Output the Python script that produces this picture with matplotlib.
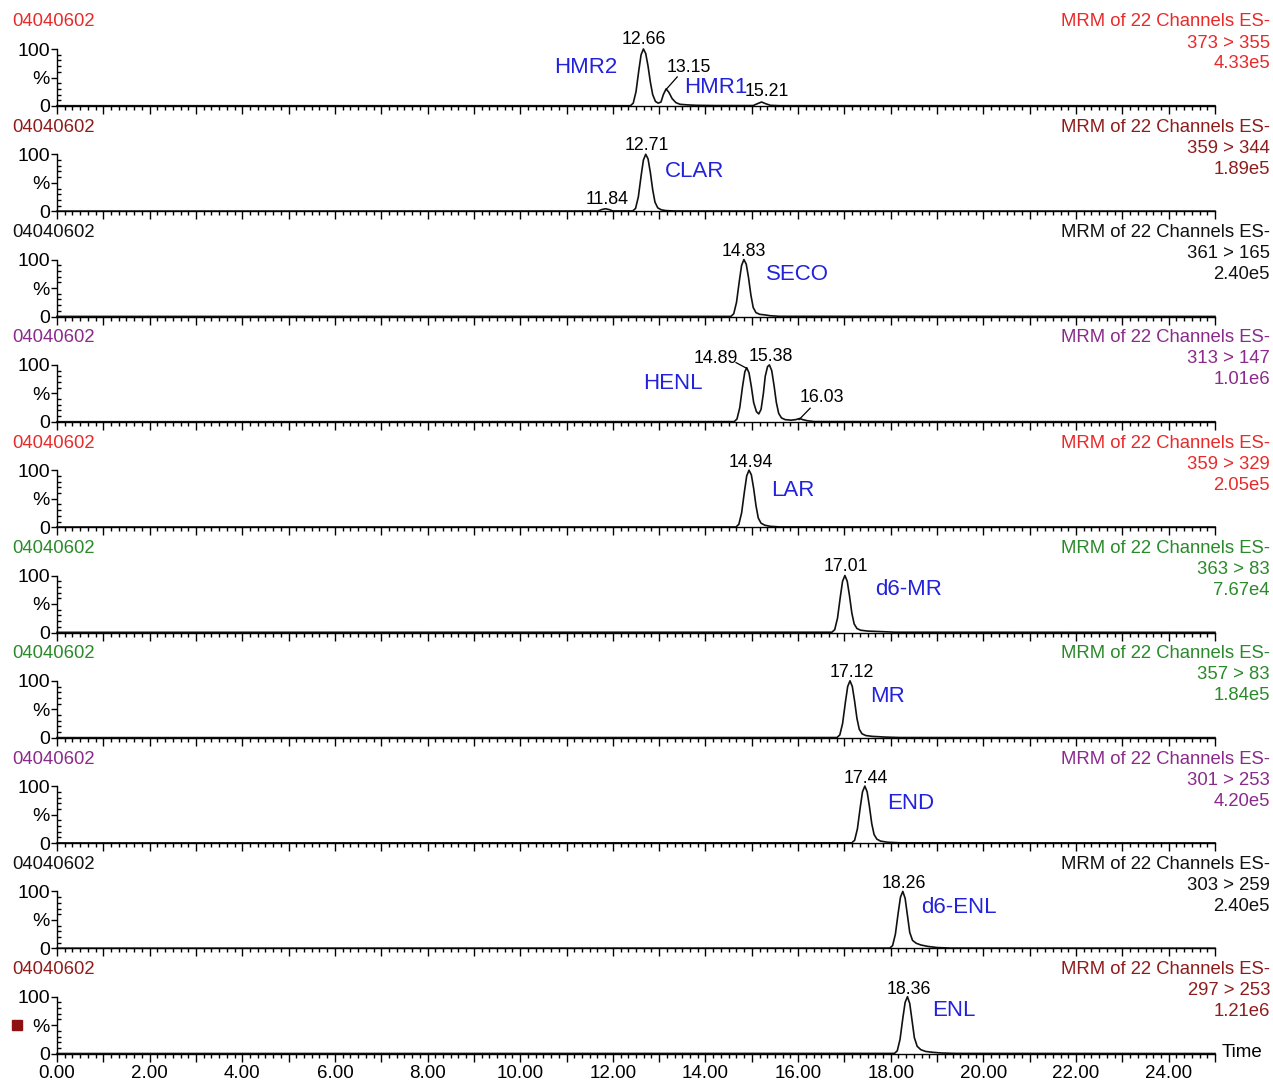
import matplotlib.pyplot as plt
from matplotlib.ticker import MultipleLocator
import numpy as np

plt.rcParams['font.family'] = ['Liberation Sans', 'DejaVu Sans']

sample = '04040602'
header = 'MRM of 22 Channels ES-'
channels = ['373 > 355', '359 > 344', '361 > 165', '313 > 147', '359 > 329',
            '363 > 83', '357 > 83', '301 > 253', '303 > 259', '297 > 253']
scales = ['4.33e5', '1.89e5', '2.40e5', '1.01e6', '2.05e5',
          '7.67e4', '1.84e5', '4.20e5', '2.40e5', '1.21e6']
colors = ['#e82a2a', '#8e1c1c', '#111111', '#8a2a8a', '#e82a2a',
          '#2a8a2a', '#2a8a2a', '#8a2a8a', '#111111', '#8e1c1c']

# traces (time in min, % of max)
t1 = [0, 12.38, 12.44, 12.50, 12.56, 12.61, 12.66, 12.71, 12.76, 12.81, 12.86, 12.92, 12.98, 13.04,
      13.09, 13.15, 13.21, 13.28, 13.36, 13.45, 13.6, 13.8, 14.2, 15.03, 15.12, 15.21, 15.30, 15.40, 15.6, 25]
y1 = [0.5, 0.5, 5, 25, 62, 90, 100, 92, 70, 42, 20, 8, 5, 7,
      20, 30, 24, 13, 6, 3, 2, 1.2, 0.8, 0.8, 4, 7, 4, 1.2, 0.6, 0.5]
t2 = [0, 11.68, 11.76, 11.84, 11.92, 12.0, 12.43, 12.49, 12.55, 12.61, 12.66, 12.71, 12.76,
      12.81, 12.86, 12.91, 12.97, 13.05, 13.15, 13.35, 25]
y2 = [0.3, 0.5, 3, 4.5, 3, 0.6, 0.6, 5, 25, 62, 90, 100, 92, 68, 38, 16, 6, 2.5, 1.2, 0.5, 0.3]
t3 = [0, 14.55, 14.61, 14.67, 14.73, 14.78, 14.83, 14.88, 14.93, 14.98, 15.03, 15.09, 15.17,
      15.28, 15.4, 15.6, 25]
y3 = [0.3, 0.4, 5, 25, 62, 90, 100, 92, 68, 38, 16, 7, 4, 3, 1.5, 0.5, 0.3]
t4 = [0, 14.62, 14.68, 14.74, 14.80, 14.85, 14.89, 14.94, 14.99, 15.04, 15.10, 15.15, 15.20,
      15.25, 15.29, 15.34, 15.38, 15.43, 15.48, 15.53, 15.58, 15.64, 15.72, 15.85, 15.95, 16.03,
      16.1, 16.2, 16.35, 25]
y4 = [0.3, 0.5, 5, 25, 62, 88, 95, 86, 62, 34, 18, 14, 22,
      50, 80, 97, 100, 90, 64, 34, 15, 7, 4, 3, 4, 6,
      4, 2, 0.6, 0.3]
t5 = [0, 14.66, 14.72, 14.78, 14.84, 14.89, 14.94, 14.99, 15.04, 15.09, 15.14, 15.20, 15.28,
      15.4, 15.6, 25]
y5 = [0.3, 0.4, 5, 25, 62, 90, 100, 92, 68, 38, 16, 7, 3.5, 1.5, 0.5, 0.3]
t6 = [0, 16.73, 16.79, 16.85, 16.91, 16.96, 17.01, 17.06, 17.11, 17.16, 17.21, 17.27, 17.35,
      17.5, 17.8, 18.1, 25]
y6 = [0.3, 0.5, 5, 25, 62, 90, 100, 90, 64, 34, 15, 7, 4, 2.5, 1.5, 0.5, 0.3]
t7 = [0, 16.84, 16.90, 16.96, 17.02, 17.07, 17.12, 17.17, 17.22, 17.27, 17.32, 17.38, 17.46,
      17.6, 17.9, 18.2, 25]
y7 = [0.3, 0.5, 5, 25, 62, 90, 100, 90, 64, 34, 15, 7, 4, 2.5, 1.2, 0.5, 0.3]
t8 = [0, 17.16, 17.22, 17.28, 17.34, 17.39, 17.44, 17.49, 17.54, 17.59, 17.64, 17.70, 17.78,
      17.93, 18.2, 25]
y8 = [0.3, 0.5, 5, 25, 62, 90, 100, 90, 64, 34, 15, 7, 3.5, 1.5, 0.5, 0.3]
t9 = [0, 17.98, 18.04, 18.10, 18.16, 18.21, 18.26, 18.31, 18.36, 18.41, 18.47, 18.55, 18.65,
      18.8, 19.0, 19.3, 25]
y9 = [0.3, 0.5, 5, 25, 62, 90, 100, 88, 58, 28, 14, 9, 6, 3.5, 1.5, 0.5, 0.3]
t10 = [0, 18.08, 18.14, 18.20, 18.26, 18.31, 18.36, 18.41, 18.46, 18.51, 18.57, 18.65, 18.75,
       18.9, 19.1, 19.4, 25]
y10 = [0.3, 0.5, 5, 25, 62, 90, 100, 88, 58, 28, 13, 7, 4, 2.5, 1.2, 0.5, 0.3]
traces = [(t1, y1), (t2, y2), (t3, y3), (t4, y4), (t5, y5),
          (t6, y6), (t7, y7), (t8, y8), (t9, y9), (t10, y10)]

# compound names: (name, time, %)
compounds = [[('HMR2', 11.42, 68), ('HMR1', 14.22, 33)],
             [('CLAR', 13.77, 69)],
             [('SECO', 15.98, 73)],
             [('HENL', 13.30, 68)],
             [('LAR', 15.89, 65)],
             [('d6-MR', 18.38, 75)],
             [('MR', 17.92, 73)],
             [('END', 18.44, 70)],
             [('d6-ENL', 19.48, 72)],
             [('ENL', 19.37, 75)]]

# peak labels: (text, x, y, leader line or None)
peaks = [[('12.66', 12.67, 116, None), ('13.15', 13.64, 67, (13.15, 29, 13.39, 51)),
          ('15.21', 15.33, 25, None)],
         [('12.71', 12.74, 115, None), ('11.84', 11.87, 20, None)],
         [('14.83', 14.83, 115, None)],
         [('14.89', 14.23, 112, (14.66, 104, 14.89, 94)), ('15.38', 15.42, 114, None),
          ('16.03', 16.52, 42, (16.02, 4, 16.26, 24))],
         [('14.94', 14.98, 114, None)],
         [('17.01', 17.04, 115, None)],
         [('17.12', 17.15, 114, None)],
         [('17.44', 17.47, 114, None)],
         [('18.26', 18.29, 113, None)],
         [('18.36', 18.40, 113, None)]]

W, H = 1273, 1083
fig = plt.figure(figsize=(W / 100, H / 100), dpi=100)

x0_px, x1_px = 57, 1215
base0, step, hpx = 106, 105.3, 57

for i in range(10):
    base = base0 + step * i
    ax = fig.add_axes([x0_px / W, 1 - base / H, (x1_px - x0_px) / W, hpx / H])
    t, y = traces[i]
    ax.plot(t, y, color='#111111', lw=1.2, clip_on=False)
    ax.set_xlim(0, 25)
    ax.set_ylim(0, 100)
    for s in ['top', 'right']:
        ax.spines[s].set_visible(False)
    ax.spines['left'].set_linewidth(1.0)
    ax.spines['bottom'].set_linewidth(1.0)
    ax.xaxis.set_major_locator(MultipleLocator(1))
    ax.xaxis.set_minor_locator(MultipleLocator(1 / 6))
    ax.set_yticks([0, 50, 100])
    ax.set_yticklabels(['0', '%', '100'], fontsize=14)
    ax.yaxis.set_minor_locator(MultipleLocator(10))
    ax.tick_params(axis='y', which='major', length=4, width=1, pad=1)
    ax.tick_params(axis='y', which='minor', direction='in', length=3, width=1)
    ax.tick_params(axis='x', which='major', length=6, width=1)
    ax.tick_params(axis='x', which='minor', length=3, width=1)
    if i < 9:
        ax.set_xticklabels([])
    else:
        ax.set_xticks(np.arange(0, 26, 1))
        ax.set_xticklabels(['%.2f' % v if v % 2 == 0 and v < 25 else '' for v in range(26)],
                           fontsize=13.5)
        ax.tick_params(axis='x', which='major', pad=2)
        ax.text(25.15, 2, 'Time', fontsize=13.5, ha='left', va='center')
    for name, xx, yy in compounds[i]:
        ax.text(xx, yy, name, color='#2222dd', fontsize=16, ha='center', va='center')
    for lab, xx, yy, lead in peaks[i]:
        ax.text(xx, yy, lab, fontsize=12.8, ha='center', va='center')
        if lead is not None:
            ax.plot([lead[0], lead[2]], [lead[1], lead[3]], color='black', lw=0.9, clip_on=False)
    c = colors[i]
    fig.text(12 / W, 1 - (base - 84) / H, sample, color=c, fontsize=13.3, ha='left', va='center')
    fig.text(1270 / W, 1 - (base - 84) / H, header, color=c, fontsize=13.3, ha='right', va='center')
    fig.text(1270 / W, 1 - (base - 63) / H, channels[i], color=c, fontsize=13.3, ha='right', va='center')
    fig.text(1270 / W, 1 - (base - 42) / H, scales[i], color=c, fontsize=13.3, ha='right', va='center')

# small marker square at the left of the last panel
fig.patches.append(plt.Rectangle((12 / W, 1 - 1030 / H), 10 / W, 10 / H, color='#8e1010',
                                 transform=fig.transFigure, figure=fig))

fig.savefig('out.png', dpi=100)
